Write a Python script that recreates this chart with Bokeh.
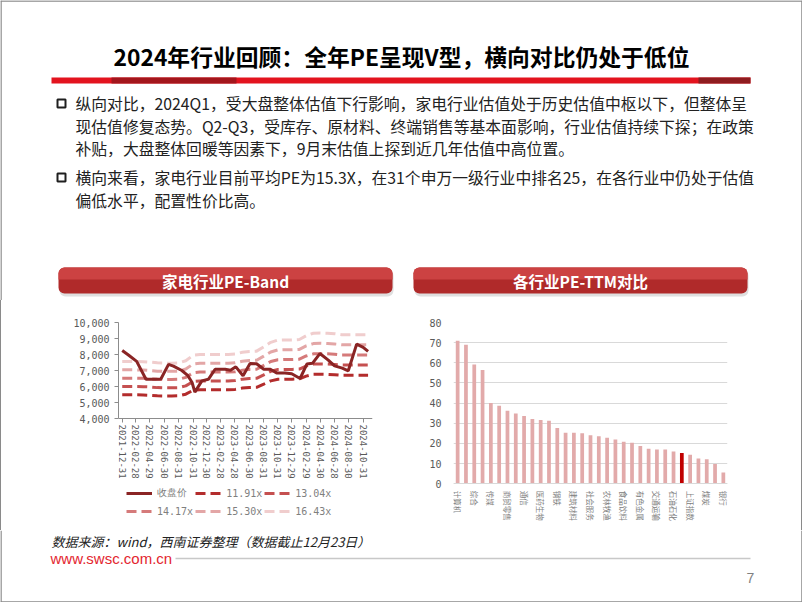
import pandas as pd
from bokeh.plotting import figure
from bokeh.layouts import column, row
from bokeh.models import (Range1d, FixedTicker, DatetimeTickFormatter, NumeralTickFormatter,
                          Legend, LegendItem, Div)
from bokeh.core.properties import value
from bokeh.embed import file_html
from bokeh.resources import INLINE

# ------------------------------------------------------------------ texts
title_text = "2024年行业回顾：全年PE呈现V型，横向对比仍处于低位"
bullet1_lines = [
    "纵向对比，2024Q1，受大盘整体估值下行影响，家电行业估值处于历史估值中枢以下，但整体呈",
    "现估值修复态势。Q2-Q3，受库存、原材料、终端销售等基本面影响，行业估值持续下探；在政策",
    "补贴，大盘整体回暖等因素下，9月末估值上探到近几年估值中高位置。",
]
bullet2_lines = [
    "横向来看，家电行业目前平均PE为15.3X，在31个申万一级行业中排名25，在各行业中仍处于估值",
    "偏低水平，配置性价比高。",
]
left_chart_title = "家电行业PE-Band"
right_chart_title = "各行业PE-TTM对比"
source_text = "数据来源：wind，西南证券整理（数据截止12月23日）"
site_text = "www.swsc.com.cn"
page_no = "7"

# ------------------------------------------------------------------ PE-Band data
close_dates = ["2021-12-31", "2022-01-28", "2022-03-03", "2022-04-12", "2022-05-21", "2022-06-15",
               "2022-07-18", "2022-08-08", "2022-09-13", "2022-10-08", "2022-10-27", "2022-11-08",
               "2022-12-08", "2023-01-05", "2023-02-03", "2023-03-18", "2023-04-10", "2023-05-03",
               "2023-06-03", "2023-07-03", "2023-07-31", "2023-08-31", "2023-09-28", "2023-10-25",
               "2023-11-30", "2023-12-29", "2024-02-03", "2024-03-03", "2024-03-27", "2024-04-28",
               "2024-06-03", "2024-06-30", "2024-08-02", "2024-08-28", "2024-10-03", "2024-10-31",
               "2024-11-21"]
close_values = [8250, 7950, 7570, 6450, 6450, 6470,
                7380, 7270, 7000, 6700, 6250, 5650,
                6350, 6450, 7080, 7080, 7020, 7230,
                6670, 7440, 7420, 7080, 7080, 6850,
                6850, 6800, 6500, 7400, 7450, 8060,
                7650, 7290, 7150, 6980, 8650, 8450,
                8200]

band_dates = ["2021-12-31", "2022-01-31", "2022-02-28", "2022-03-31", "2022-04-30", "2022-05-31",
              "2022-06-30", "2022-07-31", "2022-08-31", "2022-09-30", "2022-10-31", "2022-11-30",
              "2022-12-31", "2023-01-31", "2023-02-28", "2023-03-31", "2023-04-30", "2023-05-31",
              "2023-06-30", "2023-07-31", "2023-08-31", "2023-09-30", "2023-10-31", "2023-11-30",
              "2023-12-31", "2024-01-31", "2024-02-29", "2024-03-31", "2024-04-30", "2024-05-31",
              "2024-06-30", "2024-07-31", "2024-08-31", "2024-09-30", "2024-10-31", "2024-11-21"]
band_1191 = [5480, 5480, 5480, 5470, 5450, 5420, 5410, 5410, 5420, 5520, 5760, 5800,
             5800, 5800, 5800, 5800, 5820, 5900, 5940, 5950, 6150, 6350, 6450, 6460,
             6460, 6480, 6650, 6760, 6770, 6760, 6740, 6700, 6700, 6700, 6700, 6700]
band_1304 = [6000, 6000, 6000, 5990, 5970, 5930, 5920, 5920, 5930, 6040, 6310, 6350,
             6350, 6350, 6350, 6350, 6370, 6460, 6500, 6510, 6730, 6950, 7060, 7070,
             7070, 7090, 7280, 7400, 7410, 7400, 7380, 7340, 7340, 7340, 7340, 7340]
band_1417 = [6520, 6520, 6520, 6510, 6480, 6450, 6440, 6440, 6450, 6570, 6850, 6900,
             6900, 6900, 6900, 6900, 6920, 7020, 7070, 7080, 7320, 7560, 7670, 7690,
             7690, 7710, 7910, 8040, 8050, 8040, 8020, 7970, 7970, 7970, 7970, 7970]
band_1530 = [7040, 7040, 7040, 7030, 7000, 6960, 6950, 6950, 6960, 7090, 7400, 7450,
             7450, 7450, 7450, 7450, 7480, 7580, 7630, 7640, 7900, 8160, 8290, 8300,
             8300, 8320, 8540, 8680, 8700, 8680, 8660, 8610, 8610, 8610, 8610, 8610]
band_1643 = [7560, 7560, 7560, 7550, 7520, 7480, 7460, 7460, 7480, 7610, 7950, 8000,
             8000, 8000, 8000, 8000, 8030, 8140, 8190, 8210, 8480, 8760, 8900, 8910,
             8910, 8940, 9170, 9330, 9340, 9330, 9300, 9240, 9240, 9240, 9240, 9240]
close_label = "收盘价"
band_labels = ["11.91x", "13.04x", "14.17x", "15.30x", "16.43x"]
price_ticks = [4000, 5000, 6000, 7000, 8000, 9000, 10000]
date_tick_labels = ["2021-12-31", "2022-02-28", "2022-04-29", "2022-06-30", "2022-08-31",
                    "2022-10-31", "2022-12-30", "2023-02-28", "2023-04-28", "2023-06-30",
                    "2023-08-31", "2023-10-31", "2023-12-29", "2024-02-29", "2024-04-30",
                    "2024-06-28", "2024-08-30", "2024-10-31"]

# ------------------------------------------------------------------ PE-TTM data
industries = ["计算机", "国防军工", "综合", "电子", "传媒", "机械设备", "商贸零售", "美容护理",
              "通信", "环保", "医药生物", "轻工制造", "钢铁", "汽车", "建筑材料", "基础化工",
              "社会服务", "纺织服饰", "农林牧渔", "电力设备", "食品饮料", "房地产", "有色金属",
              "非银金融", "交通运输", "公用事业", "石油石化", "家用电器", "上证指数", "沪深300",
              "煤炭", "建筑装饰", "银行"]
pe_ttm = [70.9, 69.0, 59.2, 56.4, 40.0, 38.7, 36.2, 34.9,
          33.6, 32.1, 31.6, 31.3, 27.6, 25.3, 25.3, 25.0,
          24.1, 23.6, 22.8, 22.0, 20.8, 20.3, 18.7,
          17.4, 17.0, 17.0, 16.0, 15.3, 14.4, 12.5,
          12.1, 9.8, 5.6]
highlight_industry = "家用电器"
pe_ticks = [0, 10, 20, 30, 40, 50, 60, 70, 80]

# ------------------------------------------------------------------ styles
CJK = "Noto Sans CJK SC"
MONO = "DejaVu Sans Mono"
W = 802
BORDER = "#8a8a8a"


def blank_fig(w, h):
    f = figure(width=w, height=h, x_range=Range1d(0, w), y_range=Range1d(h, 0),
               x_axis_location=None, y_axis_location=None, toolbar_location=None,
               output_backend="svg", min_border=0, outline_line_color=None)
    f.grid.visible = False
    return f


# ------------------------------------------------------------------ header
hdr = blank_fig(W, 300)
hdr.segment(x0=[0, 0.5, 801.5], y0=[0.5, 0, 0], x1=[W, 0.5, 801.5], y1=[0.5, 300, 300],
            line_color=BORDER, line_width=1.5)
hdr.text(x=[401], y=[56], text=[title_text], text_font=value(CJK), text_font_size="22.8px",
         text_font_style="bold", text_align="center", text_baseline="middle", text_color="#000000")
hdr.quad(left=[51], right=[750], top=[77], bottom=[83], fill_color="#E3131E", line_color=None)
hdr.quad(left=[111, 698], right=[236, 750], top=[77, 77], bottom=[83, 83],
         fill_color=["#A3161C", "#8E1C1F"], line_color=None)

hdr.rect(x=[61, 61], y=[103, 177], width=8, height=8, fill_color=None,
         line_color="#1f1f1f", line_width=2)
line_ys1 = [103, 125.5, 148]
line_ys2 = [177, 199.5]
hdr.text(x=[75] * 3, y=line_ys1, text=bullet1_lines, text_font=value(CJK), text_font_size="15.8px",
         text_align="left", text_baseline="middle", text_color="#222222")
hdr.text(x=[75] * 2, y=line_ys2, text=bullet2_lines, text_font=value(CJK), text_font_size="15.8px",
         text_align="left", text_baseline="middle", text_color="#222222")

# chart banners
for l, r_, ttl in [(58, 392, left_chart_title), (413, 747, right_chart_title)]:
    hdr.quad(left=[l + 1], right=[r_ + 1], top=[269], bottom=[296], fill_color="#c9c9c9",
             fill_alpha=0.6, line_color=None, border_radius=6)
    hdr.quad(left=[l], right=[r_], top=[267], bottom=[293], fill_color="#B02A2A",
             line_color=None, border_radius=6)
    hdr.quad(left=[l], right=[r_], top=[267], bottom=[279], fill_color="#CC4242",
             line_color=None, border_radius=(6, 6, 0, 0))
    hdr.text(x=[(l + r_) / 2], y=[280.5], text=[ttl], text_font=value(CJK), text_font_size="15.5px",
             text_font_style="bold", text_align="center", text_baseline="middle", text_color="white")

# ------------------------------------------------------------------ left chart: PE-Band
# the frame runs to the bottom of the row; the price scale occupies its upper part and the
# date axis is pinned at the lowest price tick, so labels and legend sit inside the frame
p1 = figure(width=399, height=230, x_axis_type="datetime",
            x_range=Range1d(pd.Timestamp("2021-12-15"), pd.Timestamp("2024-12-10")),
            y_range=Range1d(-3000, 10000), toolbar_location=None, output_backend="svg",
            min_border_left=117, min_border_right=28, min_border_top=22, min_border_bottom=0,
            outline_line_color=None)
p1.grid.visible = False

band_colors = ["#B32C2C", "#C55050", "#D57A7A", "#E3A6A6", "#F0CDCD"]
band_series = [band_1191, band_1304, band_1417, band_1530, band_1643]
bd = pd.to_datetime(band_dates)
band_renderers = []
for vals, col in zip(band_series[::-1], band_colors[::-1]):
    band_renderers.append(p1.line(bd, vals, line_color=col, line_width=3, line_dash="10 5"))
band_renderers = band_renderers[::-1]
close_r = p1.line(pd.to_datetime(close_dates), close_values, line_color="#8A2424", line_width=3)

tick_ms = [int(pd.Timestamp(d).value // 10**6) for d in date_tick_labels]
p1.xaxis.ticker = FixedTicker(ticks=tick_ms)
fmt = "%Y-%m-%d"
p1.xaxis.formatter = DatetimeTickFormatter(milliseconds=fmt, seconds=fmt, minsec=fmt, minutes=fmt,
                                           hourmin=fmt, hours=fmt, days=fmt, months=fmt, years=fmt)
p1.xaxis.major_label_orientation = "vertical"
p1.xaxis.fixed_location = price_ticks[0]
p1.yaxis.ticker = FixedTicker(ticks=price_ticks)
p1.yaxis.bounds = (price_ticks[0], price_ticks[-1])
p1.yaxis.formatter = NumeralTickFormatter(format="0,0")
for ax, fs in [(p1.xaxis, "9px"), (p1.yaxis, "10px")]:
    ax.major_label_text_font = MONO
    ax.major_label_text_font_size = fs
    ax.major_label_text_color = "#595959"
    ax.axis_line_color = "#8C8C8C"
    ax.major_tick_line_color = "#8C8C8C"
    ax.major_tick_out = 4
    ax.major_tick_in = 0
    ax.minor_tick_line_color = None
p1.xaxis.major_label_standoff = 2
p1.yaxis.major_label_standoff = 5

all_items = [LegendItem(label=close_label, renderers=[close_r])]
all_items += [LegendItem(label=lb, renderers=[r]) for lb, r in zip(band_labels, band_renderers)]
leg = Legend(items=all_items, orientation="horizontal", ncols=3, location=(8, 11),
             label_text_font=MONO, label_text_font_size="10px", label_text_color="#7f7f7f",
             glyph_width=26, glyph_height=16, label_height=16, label_width=20,
             label_standoff=5, spacing=2, padding=0, margin=0,
             border_line_color=None, background_fill_alpha=0)
p1.add_layout(leg)

# ------------------------------------------------------------------ right chart: PE-TTM
n = len(industries)
p2 = figure(width=401, height=230, x_range=Range1d(-0.5, n - 0.5), y_range=Range1d(-23.2, 80),
            toolbar_location=None, output_backend="svg",
            min_border_left=53, min_border_right=74, min_border_top=22, min_border_bottom=0,
            outline_line_color=None)
bar_colors = ["#C00000" if nm == highlight_industry else "#E2AAAA" for nm in industries]
p2.vbar(x=list(range(n)), top=pe_ttm, width=0.45, fill_color=bar_colors, line_color=None)
p2.xgrid.visible = False
p2.ygrid.ticker = FixedTicker(ticks=pe_ticks)
p2.ygrid.grid_line_color = "#D9D9D9"
p2.yaxis.ticker = FixedTicker(ticks=pe_ticks)
p2.yaxis.bounds = (pe_ticks[0], pe_ticks[-1])
p2.yaxis.axis_line_color = None
p2.yaxis.major_tick_line_color = None
p2.yaxis.minor_tick_line_color = None
p2.yaxis.major_tick_out = 0
p2.yaxis.major_label_text_font = MONO
p2.yaxis.major_label_text_font_size = "10px"
p2.yaxis.major_label_text_color = "#595959"
p2.yaxis.major_label_standoff = 12
shown = list(range(0, n, 2))
p2.xaxis.ticker = FixedTicker(ticks=shown)
p2.xaxis.fixed_location = pe_ticks[0]
p2.xaxis.major_label_overrides = {i: industries[i] for i in shown}
p2.xaxis.major_label_orientation = "vertical"
p2.xaxis.axis_line_color = "#D9D9D9"
p2.xaxis.major_tick_line_color = None
p2.xaxis.minor_tick_line_color = None
p2.xaxis.major_tick_out = 0
p2.xaxis.major_label_text_font = CJK
p2.xaxis.major_label_text_font_size = "7.5px"
p2.xaxis.major_label_text_color = "#808080"
p2.xaxis.major_label_standoff = 7

# ------------------------------------------------------------------ footer
ftr = blank_fig(W, 72)
ftr.segment(x0=[0.5, 801.5, 0], y0=[0, 0, 71.5], x1=[0.5, 801.5, W], y1=[72, 72, 71.5],
            line_color=BORDER, line_width=1.5)
ftr.text(x=[51], y=[11], text=[source_text], text_font=value(CJK), text_font_size="13px",
         text_font_style="italic", text_align="left", text_baseline="middle", text_color="#222222")
ftr.text(x=[50], y=[28], text=[site_text], text_font=value("Liberation Sans"), text_font_size="15px",
         text_align="left", text_baseline="middle", text_color="#E3262F")
ftr.segment(x0=[175], y0=[28], x1=[750], y1=[28], line_color="#C8C8C8", line_width=1.5)
ftr.text(x=[750], y=[47], text=[page_no], text_font=value("Liberation Sans"), text_font_size="14px",
         text_align="center", text_baseline="middle", text_color="#808080")

# ------------------------------------------------------------------ layout
def vbar_div():
    return Div(text="", width=1, height=230, margin=0, styles={"background-color": BORDER})

layout = column(hdr, row(vbar_div(), p1, p2, vbar_div(), spacing=0), ftr, spacing=0)

open("out.html", "w").write(file_html(layout, INLINE))
